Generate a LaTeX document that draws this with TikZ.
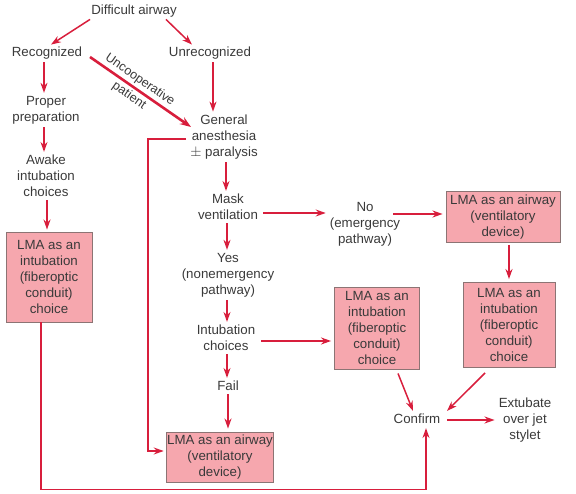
\documentclass[tikz,border=0pt]{standalone}
\usepackage{fontspec}
\setmainfont{Liberation Sans}
\usetikzlibrary{arrows.meta,calc}
\definecolor{arrred}{HTML}{D81E3C}
\definecolor{boxfill}{HTML}{F6A7AE}
\definecolor{boxedge}{HTML}{8C7474}
\definecolor{txt}{HTML}{3A3A3A}
\tikzset{
  lbl/.style={align=center,text=txt,inner sep=1pt,font=\fontsize{13.3}{16}\selectfont},
  lmabox/.style={lbl,draw=boxedge,fill=boxfill,line width=0.9pt},
  arr/.style={draw=arrred,line width=1.5pt,-{Stealth[length=10pt,width=7pt]}},
  thickarr/.style={arr,line width=2.6pt,-{Stealth[length=11pt,width=8pt]}}
}
\begin{document}
\begin{tikzpicture}[x=1pt,y=-1pt]
\useasboundingbox (0,0) rectangle (576,494);
% plain labels
\node[lbl] (da) at (134,11) {Difficult airway};
\node[lbl] (rec) at (47,53) {Recognized};
\node[lbl] (unrec) at (210,53) {Unrecognized};
\node[lbl] (prep) at (46,110) {Proper\\preparation};
\node[lbl] (awake) at (46,176) {Awake\\intubation\\choices};
\node[lbl] (gen) at (224,137) {General\\anesthesia\\$\pm$ paralysis};
\node[lbl] (mask) at (228,207) {Mask\\ventilation};
\node[lbl] (no) at (365,224) {No\\(emergency\\pathway)};
\node[lbl] (yes) at (228,275) {Yes\\(nonemergency\\pathway)};
\node[lbl] (ichoice) at (226,338) {Intubation\\choices};
\node[lbl] (fail) at (228,386) {Fail};
\node[lbl] (conf) at (417,419) {Confirm};
\node[lbl] (ext) at (525,420) {Extubate\\over jet\\stylet};
\coordinate (ua) at (90,57);
\coordinate (ub) at (191,127);
% boxes
\node[lmabox,minimum width=86,minimum height=90] (lmal) at (49,277) {LMA as an\\intubation\\(fiberoptic\\conduit)\\choice};
\node[lmabox,minimum width=114,minimum height=51] (lmatr) at (503,217) {LMA as an airway\\(ventilatory\\device)};
\node[lmabox,minimum width=85,minimum height=82] (lmam) at (377,328) {LMA as an\\intubation\\(fiberoptic\\conduit)\\choice};
\node[lmabox,minimum width=92,minimum height=85] (lmar) at (509,325) {LMA as an\\intubation\\(fiberoptic\\conduit)\\choice};
\node[lmabox,minimum width=96,minimum height=50] (lmab) at (220,457) {LMA as an airway\\(ventilatory\\device)};
% connectors
\draw[arr] ($(da.south west)+(0,1)$) -- ($(rec.north)+(4,-1)$);
\draw[arr] ($(da.south east)+(-12,1)$) -- ($(unrec.north)+(-18,-1)$);
\draw[arr] ($(rec.south)+(-3,2)$) -- ($(prep.north)+(-2,-2)$);
\draw[arr] ($(prep.south)+(-2,2)$) -- ($(awake.north)+(-2,-2)$);
\draw[arr] ($(awake.south)+(1,2)$) -- ($(lmal.north)+(-2,-2)$);
\draw[arr] ($(unrec.south)+(3,2)$) -- ($(gen.north)+(-11,-2)$);
\draw[thickarr] (ua) -- node[lbl,sloped,pos=0.44,font=\fontsize{12.6}{19}\selectfont] (unc) {Uncooperative\\patient} (ub);
\draw[arr] ($(gen.south)+(2,2)$) -- ($(mask.north)+(-2,-2)$);
\draw[arr] ($(mask.east)+(4,6)$) coordinate (m1) -- ($(m1 -| no.west)+(-3,0)$);
\draw[arr] ($(no.east)+(-8,-10)$) coordinate (n1) -- ($(n1 -| lmatr.west)+(-3,0)$);
\draw[arr] ($(lmatr.south)+(6,2)$) -- ($(lmar.north)+(0,-3)$);
\draw[arr] ($(mask.south)+(-1,2)$) -- ($(yes.north)+(-1,-2)$);
\draw[arr] ($(yes.south)+(-1,2)$) -- ($(ichoice.north)+(1,-2)$);
\draw[arr] ($(ichoice.east)+(5,3)$) coordinate (i1) -- ($(i1 -| lmam.west)+(-3,0)$);
\draw[arr] ($(ichoice.south)+(1,2)$) -- ($(fail.north)+(-1,-2)$);
\draw[arr] ($(fail.south)+(0,2)$) -- ($(lmab.north)+(8,-3)$);
\draw[arr] ($(gen.west)+(-3,2)$) -- ++(-38,0) |- ($(lmab.west)+(-2,-6)$);
\draw[arr] ($(lmal.south)+(-8,0)$) -- ++(0,167) -| ($(conf.south)+(9,3)$);
\draw[arr] ($(lmam.south)+(21,4)$) -- ($(conf.north)+(-4,-2)$);
\draw[arr] ($(lmar.south)+(-24,5)$) -- ($(conf.north)+(30,-2)$);
\draw[arr] ($(conf.east)+(6,1)$) coordinate (c1) -- ($(c1 -| ext.west)+(-3,0)$);
\end{tikzpicture}
\end{document}
